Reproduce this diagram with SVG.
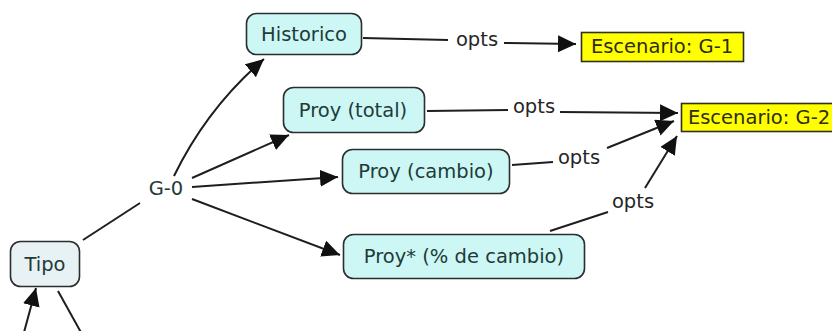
<svg xmlns="http://www.w3.org/2000/svg" width="832" height="331" viewBox="0 0 832 331">
  <style>
    .concept { fill: #ccf7f5; stroke: #2a2f2e; stroke-width: 1.6; }
    .root { fill: #e8f1f4; stroke: #2a2f2e; stroke-width: 1.6; }
    .scenario { fill: #ffff00; stroke: #2f2f1a; stroke-width: 1.6; }
    .label { font-family: "DejaVu Sans", Verdana, sans-serif; font-size: 19.5px; text-anchor: middle; }
    .concept-text { fill: #1f3b38; }
    .scenario-text { fill: #2e2e14; }
    .link-text { fill: #262626; }
    .link { fill: none; stroke: #1e1e1e; stroke-width: 2; }
  </style>
  <defs>
    <marker id="arrow" markerUnits="userSpaceOnUse" markerWidth="20" markerHeight="18" refX="18" refY="8.5" orient="auto">
      <path d="M0,0 L18,8.5 L0,17 z" fill="#111"/>
    </marker>
  </defs>
  <rect width="832" height="331" fill="#ffffff"/>

  <!-- connectors -->
  <g id="connectors">
    <!-- Tipo to G-0 -->
    <line class="link" x1="83" y1="240" x2="140" y2="203"/>
    <!-- G-0 to the four concepts -->
    <path class="link" d="M174,176 Q207,108 264,59" marker-end="url(#arrow)"/>
    <line class="link" x1="192" y1="178" x2="289" y2="135" marker-end="url(#arrow)"/>
    <line class="link" x1="192" y1="187" x2="338" y2="177" marker-end="url(#arrow)"/>
    <line class="link" x1="192" y1="199" x2="340" y2="255" marker-end="url(#arrow)"/>
    <!-- Historico opts Escenario G-1 -->
    <line class="link" x1="363" y1="38" x2="448" y2="40"/>
    <line class="link" x1="504" y1="43" x2="576" y2="44" marker-end="url(#arrow)"/>
    <!-- Proy (total) opts Escenario G-2 -->
    <line class="link" x1="427" y1="111" x2="508" y2="110"/>
    <line class="link" x1="560" y1="112" x2="678" y2="113" marker-end="url(#arrow)"/>
    <!-- Proy (cambio) opts Escenario G-2 -->
    <line class="link" x1="512" y1="165" x2="553" y2="162"/>
    <line class="link" x1="607" y1="148" x2="674" y2="121" marker-end="url(#arrow)"/>
    <!-- Proy* opts Escenario G-2 -->
    <line class="link" x1="550" y1="231" x2="608" y2="212"/>
    <line class="link" x1="645" y1="188" x2="677" y2="136" marker-end="url(#arrow)"/>
    <!-- links leaving Tipo downwards -->
    <line class="link" x1="23" y1="336" x2="36" y2="288" marker-end="url(#arrow)"/>
    <line class="link" x1="58" y1="291" x2="83" y2="336"/>
    <!-- linking phrases -->
    <text class="label link-text" x="477" y="46">opts</text>
    <text class="label link-text" x="534" y="113">opts</text>
    <text class="label link-text" x="579" y="164">opts</text>
    <text class="label link-text" x="633" y="208">opts</text>
  </g>

  <g id="node-g0">
    <text class="label concept-text" x="166" y="195">G-0</text>
  </g>

  <g id="node-tipo">
    <rect class="root" x="10.5" y="241.5" width="69" height="45" rx="10"/>
    <text class="label concept-text" x="45" y="271">Tipo</text>
  </g>

  <g id="node-historico">
    <rect class="concept" x="246.5" y="13.5" width="115" height="41" rx="10"/>
    <text class="label concept-text" x="304" y="41">Historico</text>
  </g>

  <g id="node-proy-total">
    <rect class="concept" x="283.5" y="87.5" width="141" height="45" rx="10"/>
    <text class="label concept-text" x="353" y="117">Proy (total)</text>
  </g>

  <g id="node-proy-cambio">
    <rect class="concept" x="342.5" y="149.5" width="167" height="44" rx="10"/>
    <text class="label concept-text" x="426" y="178">Proy (cambio)</text>
  </g>

  <g id="node-proy-pct">
    <rect class="concept" x="343.5" y="234.5" width="241" height="44" rx="10"/>
    <text class="label concept-text" x="464" y="263">Proy* (% de cambio)</text>
  </g>

  <g id="node-g1">
    <rect class="scenario" x="581.5" y="32.5" width="162" height="29"/>
    <text class="label scenario-text" x="662" y="53">Escenario: G-1</text>
  </g>

  <g id="node-g2">
    <rect class="scenario" x="681.5" y="103.5" width="162" height="28"/>
    <text class="label scenario-text" x="759" y="124">Escenario: G-2</text>
  </g>
</svg>
